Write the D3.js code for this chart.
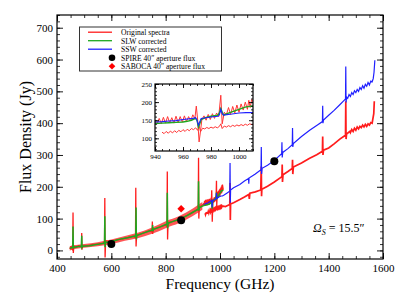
<!doctype html>
<html>
<head>
<meta charset="utf-8">
<title>SPIRE FTS spectrum</title>
<script src="https://d3js.org/d3.v7.min.js"></script>
<style>
    body { margin: 0; background: #fff; }
    svg text { font-family: "Liberation Serif", "DejaVu Serif", serif; fill: #000; }
</style>
</head>
<body>
<svg id="chart" width="399" height="308"></svg>
<script>
// ---- data: [frequency GHz, flux Jy] ----
var slwOriginal = [[447,5],[452,12],[456,4],[458,10],[459,119],[460,-8],[462,14],[470,9],[480,15],[490,12],[491,55],[492,2],[494,14],
    [510,14],[530,18],[550,20],[570,22],[575,28],[576,165],[577,-22],[579,30],[600,27],[620,33],[640,36],[660,40],[680,45],
    [689,40],[690,197],[691,12],[693,48],[720,55],[740,62],[750,58],[751,91],[752,52],[754,66],[780,74],[800,80],[805,75],
    [806,248],[807,34],[809,88],[830,92],[850,97],[870,106],[890,115],[910,125],[920,128],[921,291],[922,100],[924,136],[935,142],
    [940,147],[941.5,140],[943,155],[944.5,141],[946,158],[947.5,142],[949,160],[950.5,143],[952,157],[953.5,142],[955,161],
    [956.5,144],[958,160],[959.5,145],[961,162],[962.5,146],[964,160],[965.5,148],[967,165],[968.5,155],[969.5,189],[970.5,150],
    [971.5,90],[972.5,120],[973.5,152],[975,162],[976.5,150],[978,166],[979.5,152],[981,168],[982.5,155],[984,170],[985.5,160],
    [987,219],[988,140],[989.5,172],[991,165],[992.5,185],[994,166],[995.5,188],[997,170],[998.5,192],[1000,172],[1001.5,195],
    [1003,178],[1004.5,200],[1006,180],[1007,205],[1008,185],[1009,207],[1012,190]];

// noise envelope of the original SLW spectrum: [frequency, low, high]
var slwNoiseBand = [[447,0,13],[470,5,17],[500,8,20],[550,13,26],[600,20,34],[650,30,45],[700,39,56],[750,52,72],
    [800,70,92],[850,86,108],[900,108,132],[935,128,152]];

var sswOriginal = [[945,117],[946.5,113],[948,119],[949.5,114],[951,120],[952.5,115],[954,121],[955.5,116],[957,122],[958.5,118],
    [960,124],[961.5,119],[963,125],[964.5,121],[966,127],[967.5,124],[969,129],[970.5,122],[971.5,135],[972.5,118],[974,128],
    [975.5,126],[977,130],[978.5,127],[980,131],[981.5,128],[983,132],[984.5,129],[986,133],[987,140],[988,127],[989.5,134],
    [991,131],[992.5,135],[994,132],[995.5,136],[997,133],[998.5,137],[1000,134],[1001.5,138],[1003,135],[1004.5,139],[1006,136],
    [1007.5,140],[1009,138],[1012,139],[1020,138],[1030,142],[1036,144],[1037,212],[1038,96],[1039,146],[1050,150],[1073,160],
    [1090,168],[1106,176],[1108,162],[1110,180],[1130,184],[1150,190],[1152,264],[1153,170],[1154,192],[1175,202],[1200,215],
    [1228,232],[1229,270],[1230,215],[1232,238],[1250,248],[1266,258],[1267,285],[1268,240],[1270,262],[1300,275],[1330,290],
    [1356,301],[1377,312],[1378,358],[1379,300],[1381,315],[1400,322],[1420,335],[1441,350],[1455,358],[1462,362],[1463,469],
    [1464,350],[1466,366],[1478,374],[1480,370],[1485,380],[1490,374],[1495,384],[1500,378],[1505,388],[1510,382],[1515,390],
    [1520,386],[1525,394],[1530,388],[1535,396],[1540,390],[1545,398],[1550,394],[1555,402],[1560,400],[1563,415],[1566,430],[1568,469]];

var slwCorrected = [[447,7],[455,9],[458,9],[459,75],[460,6],[462,10],[480,12],[490,13],[491,46],[492,10],[494,13],[520,15],
    [550,19],[575,23],[576,107],[577,10],[579,25],[600,28],[620,33],[640,37],[660,40],[680,44],[690,46],[691,135],[692,35],
    [694,47],[720,55],[740,61],[751,64],[752,80],[753,60],[755,66],[780,74],[805,83],[806,181],[807,70],[809,85],[830,92],
    [850,98],[864,103],[880,110],[900,120],[920,130],[921,217],[922,125],[924,134],[935,139],[940,141],[945,142],[950,143],
    [955,144],[960,145],[963,147],[966,150],[969,155],[970,150],[971,131],[972,140],[973,152],[976,157],[980,161],[985,164],
    [986,170],[987,182],[988,172],[989,164],[992,169],[995,173],[1000,180],[1005,187],[1009,189],[1012,187]];

var sswCorrected = [[940,145],[945,146],[950,148],[955,149],[960,152],[967,155],[969,157],[970,150],[971,136],[972,146],
    [973,155],[980,159],[985,161],[986,165],[987,180],[988,168],[989,164],[995,167],[1000,170],[1005,171],[1009,171],
    [1015,174],[1025,180],[1035,186],[1036,186],[1037,275],[1038,150],[1039,190],[1050,197],[1073,207],[1090,218],[1105,226],
    [1106,210],[1107,228],[1110,229],[1130,240],[1151,254],[1152,325],[1153,240],[1155,258],[1175,268],[1200,283],[1227,304],
    [1228,340],[1229,292],[1231,308],[1250,320],[1266,332],[1267,385],[1268,325],[1270,336],[1300,358],[1330,378],[1360,395],
    [1377,405],[1378,455],[1379,400],[1381,410],[1400,425],[1420,440],[1441,458],[1455,470],[1462,476],[1463,578],[1464,465],
    [1466,482],[1470,478],[1475,490],[1480,484],[1485,496],[1490,490],[1495,502],[1500,496],[1505,506],[1510,500],[1515,512],
    [1520,506],[1525,518],[1530,510],[1535,522],[1540,516],[1545,528],[1550,520],[1555,532],[1560,530],[1564,540],[1567,560],[1570,598]];

var spireFreq = [600, 857, 1200];
var spireFlux = [20, 95, 280];
var sabocaFreq = [857];
var sabocaFlux = [131];

var mainXTicks = [400, 600, 800, 1000, 1200, 1400, 1600];
var mainYTicks = [0, 100, 200, 300, 400, 500, 600, 700];
var insetXTicks = [940, 960, 980, 1000];
var insetYTicks = [100, 150, 200, 250];
var legendLabels = ["Original spectra", "SLW corrected", "SSW corrected", "SPIRE 40\u2033 aperture flux", "SABOCA 40\u2033 aperture flux"];

var RED = "#ff1c1c", GREEN = "#1fa81f", BLUE = "#2020ff";

var svg = d3.select("#chart");

function frameAxes(g, x, y, o) {
    var x0 = x.range()[0], x1 = x.range()[1], y0 = y.range()[0], y1 = y.range()[1];
    var makers = [
        function () { return d3.axisBottom(x); }, function () { return d3.axisTop(x); },
        function () { return d3.axisLeft(y); }, function () { return d3.axisRight(y); }
    ];
    var shifts = ["translate(0," + y0 + ")", "translate(0," + y1 + ")", "translate(" + x0 + ",0)", "translate(" + x1 + ",0)"];
    makers.forEach(function (mk, i) {
        var minorVals = i < 2 ? o.xMinor : o.yMinor;
        var majorVals = i < 2 ? o.xMajor : o.yMajor;
        var pad = i < 2 ? o.padX : o.padY;
        g.append("g").attr("transform", shifts[i])
            .call(mk().tickValues(minorVals).tickSize(-o.minor).tickFormat(""))
            .call(function (a) { a.select(".domain").remove(); a.selectAll("line").attr("stroke", "#000").attr("stroke-width", 0.8); });
        g.append("g").attr("transform", shifts[i])
            .call(mk().tickValues(majorVals).tickSize(-o.major).tickPadding(pad).tickFormat(i % 2 === 0 ? d3.format("d") : ""))
            .attr("font-size", o.font)
            .call(function (a) { a.select(".domain").remove(); a.selectAll("line").attr("stroke", "#000").attr("stroke-width", 0.9); });
    });
    g.append("rect").attr("x", x0).attr("y", y1).attr("width", x1 - x0).attr("height", y0 - y1)
        .attr("fill", "none").attr("stroke", "#000").attr("stroke-width", 1.2);
}

// ---- main panel ----
var x = d3.scaleLinear().domain([400, 1600]).range([57, 383]);
var y = d3.scaleLinear().domain([-27, 740]).range([259, 15]);

svg.append("clipPath").attr("id", "mainClip").append("rect")
    .attr("x", 57).attr("y", 15).attr("width", 326).attr("height", 244);

var line = d3.line().x(function (d) { return x(d[0]); }).y(function (d) { return y(d[1]); });
var band = d3.area().curve(d3.curveMonotoneX)
    .x(function (d) { return x(d[0]); }).y0(function (d) { return y(d[1]); }).y1(function (d) { return y(d[2]); });
var plot = svg.append("g").attr("clip-path", "url(#mainClip)");

plot.append("path").attr("d", band(slwNoiseBand)).attr("fill", "#ff2a2a").attr("opacity", 0.8);
plot.append("path").attr("d", line(slwOriginal)).attr("fill", "none").attr("stroke", RED).attr("stroke-width", 1.3);
plot.append("path").attr("d", line(sswOriginal)).attr("fill", "none").attr("stroke", RED).attr("stroke-width", 1.7);
plot.append("path").attr("d", line(slwCorrected)).attr("fill", "none").attr("stroke", GREEN).attr("stroke-width", 1.5);
plot.append("path").attr("d", line(sswCorrected)).attr("fill", "none").attr("stroke", BLUE).attr("stroke-width", 1.2);

plot.selectAll(".spire").data(spireFreq).enter().append("circle")
    .attr("cx", function (d) { return x(d); }).attr("cy", function (d, i) { return y(spireFlux[i]); })
    .attr("r", 4).attr("fill", "#000");
plot.selectAll(".saboca").data(sabocaFreq).enter().append("path")
    .attr("d", d3.symbol(d3.symbolSquare, 28))
    .attr("transform", function (d, i) { return "translate(" + x(d) + "," + y(sabocaFlux[i]) + ") rotate(45)"; })
    .attr("fill", "#ff0000");

frameAxes(svg.append("g"), x, y, {
    xMinor: d3.range(400, 1601, 50), xMajor: mainXTicks,
    yMinor: d3.range(-20, 741, 20), yMajor: mainYTicks,
    minor: 3, major: 6, padX: 5, padY: 4, font: 11
});

svg.append("text").attr("x", 220).attr("y", 289).attr("text-anchor", "middle").attr("font-size", 15.5).text("Frequency (GHz)");
svg.append("text").attr("transform", "translate(31,137) rotate(-90)").attr("text-anchor", "middle").attr("font-size", 16).text("Flux Density (Jy)");

var om = svg.append("text").attr("x", 313).attr("y", 232).attr("font-size", 12);
om.append("tspan").attr("font-style", "italic").text("\u03A9");
om.append("tspan").attr("font-style", "italic").attr("font-size", 8).attr("dy", 3).text("S");
om.append("tspan").attr("dy", -3).text(" = 15.5\u2033");

// ---- legend ----
var leg = svg.append("g");
leg.append("rect").attr("x", 79.5).attr("y", 27).attr("width", 142).attr("height", 44)
    .attr("fill", "#fff").attr("stroke", "#333").attr("stroke-width", 1);
var rows = [32.2, 40.7, 49.2, 57.7, 66.2];
[RED, GREEN, BLUE].forEach(function (c, i) {
    leg.append("line").attr("x1", 88).attr("x2", 112).attr("y1", rows[i]).attr("y2", rows[i])
        .attr("stroke", c).attr("stroke-width", 1.3);
});
leg.append("circle").attr("cx", 112).attr("cy", rows[3]).attr("r", 3.3).attr("fill", "#000");
leg.append("path").attr("d", d3.symbol(d3.symbolSquare, 22))
    .attr("transform", "translate(112," + rows[4] + ") rotate(45)").attr("fill", "#ff0000");
legendLabels.forEach(function (t, i) {
    leg.append("text").attr("x", 121).attr("y", rows[i] + 2.8).attr("font-size", 7.6).text(t);
});

// ---- inset ----
var xi = d3.scaleLinear().domain([940, 1010]).range([155, 253]);
var yi = d3.scaleLinear().domain([65, 250]).range([151, 84]);
var inset = svg.append("g");
inset.append("rect").attr("x", 155).attr("y", 84).attr("width", 98).attr("height", 67).attr("fill", "#fff");
svg.append("clipPath").attr("id", "insetClip").append("rect")
    .attr("x", 155).attr("y", 84).attr("width", 98).attr("height", 67);
var lineI = d3.line().x(function (d) { return xi(d[0]); }).y(function (d) { return yi(d[1]); });
var ip = inset.append("g").attr("clip-path", "url(#insetClip)");
ip.append("path").attr("d", lineI(slwOriginal)).attr("fill", "none").attr("stroke", "#ff3535").attr("stroke-width", 1);
ip.append("path").attr("d", lineI(sswOriginal)).attr("fill", "none").attr("stroke", "#ff3535").attr("stroke-width", 1);
ip.append("path").attr("d", lineI(slwCorrected)).attr("fill", "none").attr("stroke", GREEN).attr("stroke-width", 1.4);
ip.append("path").attr("d", lineI(sswCorrected)).attr("fill", "none").attr("stroke", BLUE).attr("stroke-width", 1.1);

frameAxes(inset, xi, yi, {
    xMinor: d3.range(940, 1011, 5), xMajor: insetXTicks,
    yMinor: d3.range(70, 251, 10), yMajor: insetYTicks,
    minor: 2, major: 4, padX: 3, padY: 3, font: 7
});
</script>
</body>
</html>
